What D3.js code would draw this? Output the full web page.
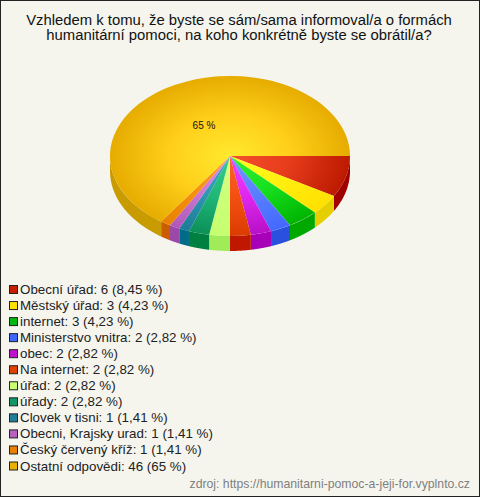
<!DOCTYPE html>
<html><head><meta charset="utf-8">
<script src="https://cdnjs.cloudflare.com/ajax/libs/d3/7.8.5/d3.min.js"></script>
<style>html,body{margin:0;padding:0;background:#f5f5ee}svg{display:block}text{font-family:"Liberation Sans",Arial,sans-serif}</style>
</head><body><svg id="c" width="480" height="497"></svg>
<script>
const titleLines = ["Vzhledem k tomu, že byste se sám/sama informoval/a o formách","humanitární pomoci, na koho konkrétně byste se obrátil/a?"];
const categories = ["Obecní úřad","Městský úřad","internet","Ministerstvo vnitra","obec","Na internet","úřad","úřady","Clovek v tisni","Obecni, Krajsky urad","Český červený kříž","Ostatní odpovědi"];
const values = [6,3,3,2,2,2,2,2,1,1,1,46];
const percents = ["8,45","4,23","4,23","2,82","2,82","2,82","2,82","2,82","1,41","1,41","1,41","65"];
// slice sweeps as drawn in the picture (degrees, snapped to 5 degree steps)
const sweepDegrees = [30,15,15,10,10,10,10,10,5,5,5,235];
const swatch = ["#c81e00","#ffe000","#00b810","#3c68ff","#c010d0","#e04000","#c8ff70","#109868","#207f98","#b860c0","#e88000","#e8b000"];
const inner = ["#f5502e","#ffff20","#30f030","#7098ff","#f040ff","#ff6428","#d8ff88","#30d088","#40a8c0","#e090e8","#ffa020","#ffe92e"];
const middle = ["#e63c1c","#fff010","#18e020","#5a80ff","#e028f0","#f45014","#ccff78","#20b878","#3098b0","#cc78d4","#f89010","#ffcf1a"];
const outer = ["#bc1a00","#ffe000","#00b400","#4468ff","#b810c8","#dc3c00","#c4ff70","#0c9058","#1c7c98","#b058b8","#e88000","#e6ac00"];
const side = ["#a00000","#e6cf00","#00a800","#2a50e0","#a800b8","#c01800","#a0ec58","#008040","#006c88","#9c48a8","#cc5c00","#c89c00"];
const sourceText = "zdroj: https://humanitarni-pomoc-a-jeji-for.vyplnto.cz";
const pieLabel = "65 %";

const W=480,H=497,cx=230,cy=156,rx=120,ry=80,depth=15;
const svg=d3.select("#c");
svg.append("rect").attr("x",.5).attr("y",.5).attr("width",W-1).attr("height",H-1).attr("fill","#f5f5ee").attr("stroke","#222");
const t=svg.append("text").attr("text-anchor","middle").attr("font-size",14.85).attr("fill","#111");
titleLines.forEach((l,i)=>t.append("tspan").attr("x",239).attr("y",25+i*15).text(l));

const arcs=d3.pie().sort(null).startAngle(Math.PI/2).endAngle(Math.PI*2.5)(sweepDegrees);
const arcGen=d3.arc().innerRadius(0).outerRadius(rx);
const defs=svg.append("defs");
inner.forEach((c,i)=>{
  const g=defs.append("radialGradient").attr("id","g"+i).attr("gradientUnits","userSpaceOnUse").attr("cx",0).attr("cy",0).attr("r",rx);
  g.append("stop").attr("offset",0).attr("stop-color",c);
  g.append("stop").attr("offset",.5).attr("stop-color",middle[i]);
  g.append("stop").attr("offset",1).attr("stop-color",outer[i]);
});
const pt=(a,dy)=>[Math.sin(a)*rx,-Math.cos(a)*ry+dy];
const wall=d3.line();
const gWall=svg.append("g").attr("transform",`translate(${cx},${cy})`);
arcs.forEach((d,i)=>{
  const a0=Math.max(d.startAngle,Math.PI/2),a1=Math.min(d.endAngle,Math.PI*1.5);
  if(a1<=a0)return;
  const as=d3.range(0,41).map(k=>a0+(a1-a0)*k/40);
  const pts=as.map(a=>pt(a,0)).concat(as.slice().reverse().map(a=>pt(a,depth)));
  gWall.append("path").attr("d",wall(pts)+"Z").attr("fill",side[i]);
});
const gTop=svg.append("g").attr("transform",`translate(${cx},${cy}) scale(1,${ry/rx})`);
gTop.selectAll("path").data(arcs).join("path").attr("d",arcGen).attr("fill",(d,i)=>`url(#g${i})`);
svg.append("text").attr("x",204).attr("y",129).attr("text-anchor","middle").attr("font-size",10).attr("fill","#111").text(pieLabel);

const y=d3.scalePoint().domain(categories).range([289,465.5]);
const lg=svg.append("g").selectAll("g").data(categories).join("g").attr("transform",d=>`translate(0,${y(d)})`);
lg.append("rect").attr("x",9.5).attr("y",-3.5).attr("width",8).attr("height",8).attr("fill",(d,i)=>swatch[i]).attr("stroke","#222");
lg.append("text").attr("x",20).attr("y",5).attr("font-size",13.35).attr("fill","#222").text((d,i)=>`${d}: ${values[i]} (${percents[i]} %)`);
svg.append("text").attr("x",470).attr("y",488).attr("text-anchor","end").attr("font-size",12.25).attr("fill","#808080").text(sourceText);
</script></body></html>
